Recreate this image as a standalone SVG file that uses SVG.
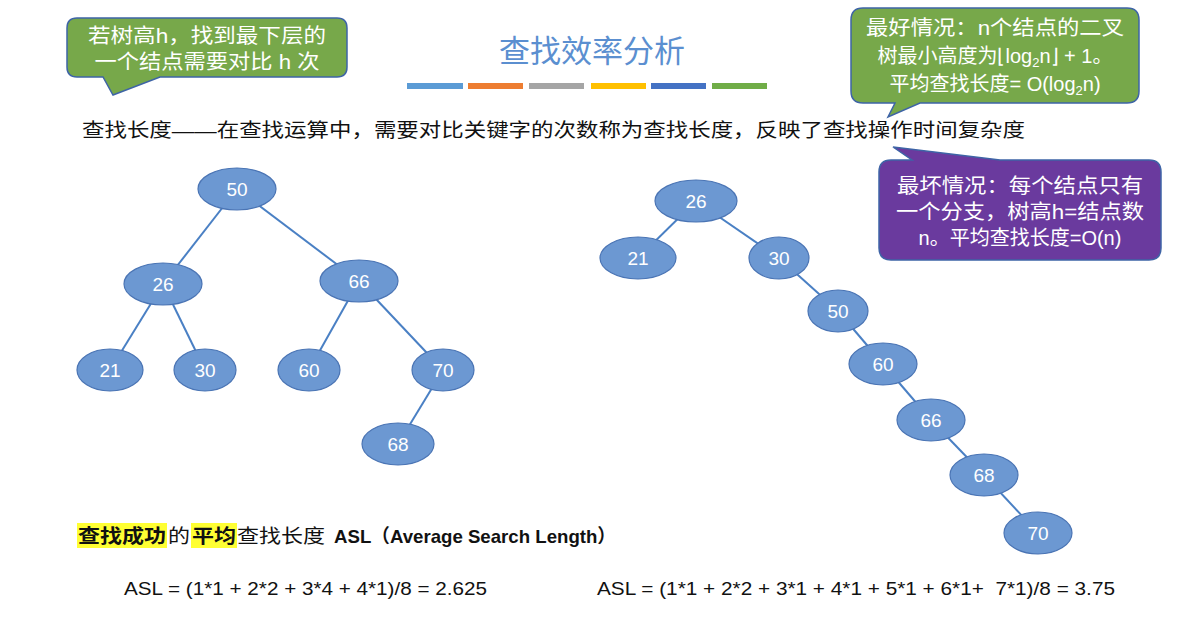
<svg xmlns="http://www.w3.org/2000/svg" width="1181" height="621" viewBox="0 0 1181 621">
<style>
text{font-family:"Liberation Sans","Noto Sans CJK SC",sans-serif}
.n ellipse{fill:#6c98d2;stroke:#4a74b4;stroke-width:1.2}
.n text{fill:#fff;font-size:19px;text-anchor:middle}
.e line{stroke:#4a80c4;stroke-width:2}
.cg{fill:#77a84a;stroke:#3e64a6;stroke-width:1.5}
.cp{fill:#6a3a9e;stroke:#3e64a6;stroke-width:1.5}
.ct{fill:#fff;font-size:20px;text-anchor:middle}
</style>
<rect width="1181" height="621" fill="#fff"/>
<g id="callout-left"><path class="cg" d="M77,18H337Q347,18 347,28V67Q347,77 337,77H160L113,95L103,77H77Q67,77 67,67V28Q67,18 77,18Z"/>
<text class="ct" x="207" y="43" textLength="238" lengthAdjust="spacingAndGlyphs">若树高h，找到最下层的</text><text class="ct" x="207" y="69" textLength="225" lengthAdjust="spacingAndGlyphs">一个结点需要对比 h 次</text></g>
<text x="592" y="62" font-size="31" fill="#5b8fd0" text-anchor="middle">查找效率分析</text>
<g id="bars"><rect x="407" y="83" width="56" height="6" fill="#5b9bd5"/><rect x="468" y="83" width="55" height="6" fill="#ed7d31"/><rect x="529" y="83" width="55" height="6" fill="#a5a5a5"/><rect x="591" y="83" width="55" height="6" fill="#ffc000"/><rect x="651" y="83" width="55" height="6" fill="#4472c4"/><rect x="712" y="83" width="55" height="6" fill="#70ad47"/></g>
<g id="callout-best"><path class="cg" d="M863,8H1127Q1139,8 1139,20V91Q1139,103 1127,103H920L888,117L895,103H863Q851,103 851,91V20Q851,8 863,8Z"/>
<text class="ct" x="995" y="35" textLength="258" lengthAdjust="spacingAndGlyphs">最好情况：n个结点的二叉</text><text class="ct" x="995" y="63">树最小高度为⌊log<tspan font-size="13" dy="4">2</tspan><tspan dy="-4">n⌋ + 1。</tspan></text><text class="ct" x="995" y="91">平均查找长度= O(log<tspan font-size="13" dy="4">2</tspan><tspan dy="-4">n)</tspan></text></g>
<text x="82" y="137" font-size="19" fill="#111" textLength="943" lengthAdjust="spacingAndGlyphs">查找长度——在查找运算中，需要对比关键字的次数称为查找长度，反映了查找操作时间复杂度</text>
<g id="callout-worst"><path class="cp" d="M891,160H912L893,147L1000,160H1149Q1161,160 1161,172V248Q1161,260 1149,260H891Q879,260 879,248V172Q879,160 891,160Z"/>
<text class="ct" x="1020" y="193" textLength="246" lengthAdjust="spacingAndGlyphs">最坏情况：每个结点只有</text><text class="ct" x="1020" y="219" textLength="248" lengthAdjust="spacingAndGlyphs">一个分支，树高h=结点数</text><text class="ct" x="1020" y="245">n。平均查找长度=O(n)</text></g>
<g id="connectors" class="e">
<line x1="237" y1="189" x2="163" y2="284"/><line x1="237" y1="189" x2="359" y2="281"/><line x1="163" y1="284" x2="110" y2="370"/><line x1="163" y1="284" x2="205" y2="370"/><line x1="359" y1="281" x2="309" y2="370"/><line x1="359" y1="281" x2="443" y2="370"/><line x1="443" y1="370" x2="398" y2="444"/>
<line x1="696" y1="201" x2="638" y2="258"/><line x1="696" y1="201" x2="779" y2="258"/><line x1="779" y1="258" x2="838" y2="311"/><line x1="838" y1="311" x2="883" y2="364"/><line x1="883" y1="364" x2="931" y2="420"/><line x1="931" y1="420" x2="984" y2="475"/><line x1="984" y1="475" x2="1038" y2="533"/>
</g>
<g class="n">
<g id="L50"><ellipse cx="237" cy="189" rx="39" ry="21"/><text x="237" y="196">50</text></g>
<g id="L26"><ellipse cx="163" cy="284" rx="39" ry="21"/><text x="163" y="291">26</text></g>
<g id="L66"><ellipse cx="359" cy="281" rx="39" ry="21"/><text x="359" y="288">66</text></g>
<g id="L21"><ellipse cx="110" cy="370" rx="33" ry="21"/><text x="110" y="377">21</text></g>
<g id="L30"><ellipse cx="205" cy="370" rx="31" ry="21"/><text x="205" y="377">30</text></g>
<g id="L60"><ellipse cx="309" cy="370" rx="31" ry="21"/><text x="309" y="377">60</text></g>
<g id="L70"><ellipse cx="443" cy="370" rx="31" ry="21"/><text x="443" y="377">70</text></g>
<g id="L68"><ellipse cx="398" cy="444" rx="36" ry="21"/><text x="398" y="451">68</text></g>
<g id="R26"><ellipse cx="696" cy="201" rx="41" ry="21"/><text x="696" y="208">26</text></g>
<g id="R21"><ellipse cx="638" cy="258" rx="38" ry="21"/><text x="638" y="265">21</text></g>
<g id="R30"><ellipse cx="779" cy="258" rx="30" ry="21"/><text x="779" y="265">30</text></g>
<g id="R50"><ellipse cx="838" cy="311" rx="30" ry="21"/><text x="838" y="318">50</text></g>
<g id="R60"><ellipse cx="883" cy="364" rx="34" ry="21"/><text x="883" y="371">60</text></g>
<g id="R66"><ellipse cx="931" cy="420" rx="34" ry="21"/><text x="931" y="427">66</text></g>
<g id="R68"><ellipse cx="984" cy="475" rx="34" ry="21"/><text x="984" y="482">68</text></g>
<g id="R70"><ellipse cx="1038" cy="533" rx="34" ry="21"/><text x="1038" y="540">70</text></g>
</g>
<rect x="77" y="523" width="90" height="25" fill="#ffff33"/><rect x="191" y="523" width="46" height="25" fill="#ffff33"/>
<text x="78" y="543" font-size="19" fill="#111"><tspan font-weight="bold" textLength="88" lengthAdjust="spacingAndGlyphs">查找成功</tspan><tspan x="168" textLength="22" lengthAdjust="spacingAndGlyphs">的</tspan><tspan x="192" font-weight="bold" textLength="44" lengthAdjust="spacingAndGlyphs">平均</tspan><tspan x="237" textLength="94" lengthAdjust="spacingAndGlyphs">查找长度 </tspan><tspan x="334" font-weight="bold" textLength="282" lengthAdjust="spacingAndGlyphs">ASL（Average Search Length）</tspan></text>
<text x="124" y="595" font-size="19" fill="#111" textLength="363" lengthAdjust="spacingAndGlyphs">ASL = (1*1 + 2*2 + 3*4 + 4*1)/8 = 2.625</text>
<text x="597" y="595" font-size="19" fill="#111" textLength="518" lengthAdjust="spacingAndGlyphs" xml:space="preserve">ASL = (1*1 + 2*2 + 3*1 + 4*1 + 5*1 + 6*1+  7*1)/8 = 3.75</text>
</svg>
